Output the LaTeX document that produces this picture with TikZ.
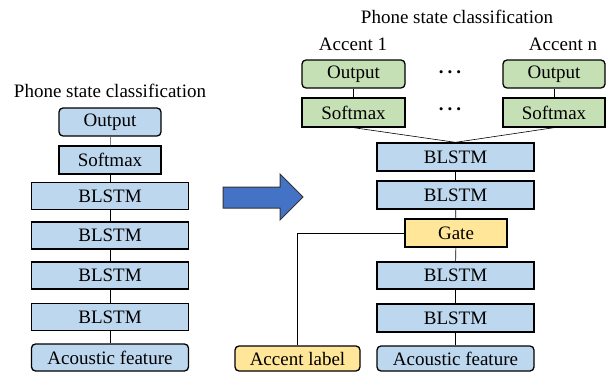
\documentclass[tikz,border=0pt]{standalone}
\usepackage{fontspec}
\setmainfont{Liberation Serif}
\definecolor{bluebox}{HTML}{BDD7EE}
\definecolor{greenbox}{HTML}{C5E0B4}
\definecolor{yellowbox}{HTML}{FFE699}
\definecolor{arrowblue}{HTML}{4472C4}
\begin{document}
\begin{tikzpicture}[x=1pt,y=-1pt,
  font=\fontsize{19}{22}\selectfont,
  box/.style={draw=black,line width=1.3pt,inner sep=0pt,anchor=center},
  wide/.style={box,minimum width=157pt,minimum height=27pt,fill=bluebox},
  narrow/.style={box,minimum width=102pt,minimum height=28pt},
  rbox/.style={rounded corners=4pt},
  conn/.style={draw=black,line width=0.6pt},
  lbl/.style={inner sep=0pt,anchor=center},
  dots/.style={inner sep=0pt,anchor=center,font=\fontsize{19}{22}\selectfont\bfseries}]
\useasboundingbox (0,0) rectangle (606,372);
% left column
\node[lbl] (tl) at (110,91) {Phone state classification};
\node[narrow,rbox,fill=bluebox] (ol) at (110,122) {Output};
\node[narrow,fill=bluebox] (sl) at (110,160) {Softmax};
\node[wide] (l1) at (110,196) {BLSTM};
\node[wide] (l2) at (110,235.5) {BLSTM};
\node[wide] (l3) at (110,275.5) {BLSTM};
\node[wide] (l4) at (110,317) {BLSTM};
\node[wide,rbox] (al) at (110,357.5) {Acoustic feature};
\draw[conn,draw=gray] (ol) -- (sl);
\draw[conn] (sl) -- (l1);
\draw[conn] (l1) -- (l2);
\draw[conn] (l2) -- (l3);
\draw[conn] (l3) -- (l4);
\draw[conn] (l4) -- (al);
% arrow
\draw[line width=1pt,draw=black!80,fill=arrowblue]
  (223,187) -- (280,187) -- (280,174) -- (303,197) -- (280,220) -- (280,208) -- (223,208) -- cycle;
% right column
\node[lbl] (tr) at (457,17) {Phone state classification};
\node[lbl] (a1) at (353,44) {Accent 1};
\node[lbl] (an) at (563,44) {Accent n};
\node[narrow,rbox,fill=greenbox,minimum width=103pt] (o1) at (353.5,74) {Output};
\node[narrow,fill=greenbox,minimum width=103pt,minimum height=29pt] (s1) at (353.5,112.5) {Softmax};
\node[narrow,rbox,fill=greenbox,minimum width=102pt] (on) at (554,74) {Output};
\node[narrow,fill=greenbox,minimum width=102pt,minimum height=29pt] (sn) at (554,112.5) {Softmax};
\node[dots] (d1) at (450,72) {.\hspace{4pt}.\hspace{4pt}.};
\node[dots] (d2) at (450,109) {.\hspace{4pt}.\hspace{4pt}.};
\node[wide,minimum height=28pt] (r1) at (455.5,157) {BLSTM};
\node[wide,minimum height=28pt] (r2) at (455.5,195) {BLSTM};
\node[narrow,fill=yellowbox] (g) at (456,233) {Gate};
\node[wide] (r3) at (455.5,275.5) {BLSTM};
\node[wide,minimum height=28pt] (r4) at (455.5,318) {BLSTM};
\node[wide,rbox,minimum height=25pt] (ar) at (455.5,358.5) {Acoustic feature};
\node[box,rbox,fill=yellowbox,minimum width=125pt,minimum height=25pt] (acl) at (297.5,358.5) {Accent label};
\draw[conn] (o1) -- (s1);
\draw[conn] (on) -- (sn);
\draw[conn] (s1.south) -- (r1.north);
\draw[conn] (sn.south) -- (r1.north);
\draw[conn] (r1) -- (r2);
\draw[conn] (r2) -- (g);
\draw[conn] (g) -- (r3);
\draw[conn] (r3) -- (r4);
\draw[conn] (r4) -- (ar);
\draw[conn] (g.west) -| (acl.north);
\end{tikzpicture}
\end{document}
